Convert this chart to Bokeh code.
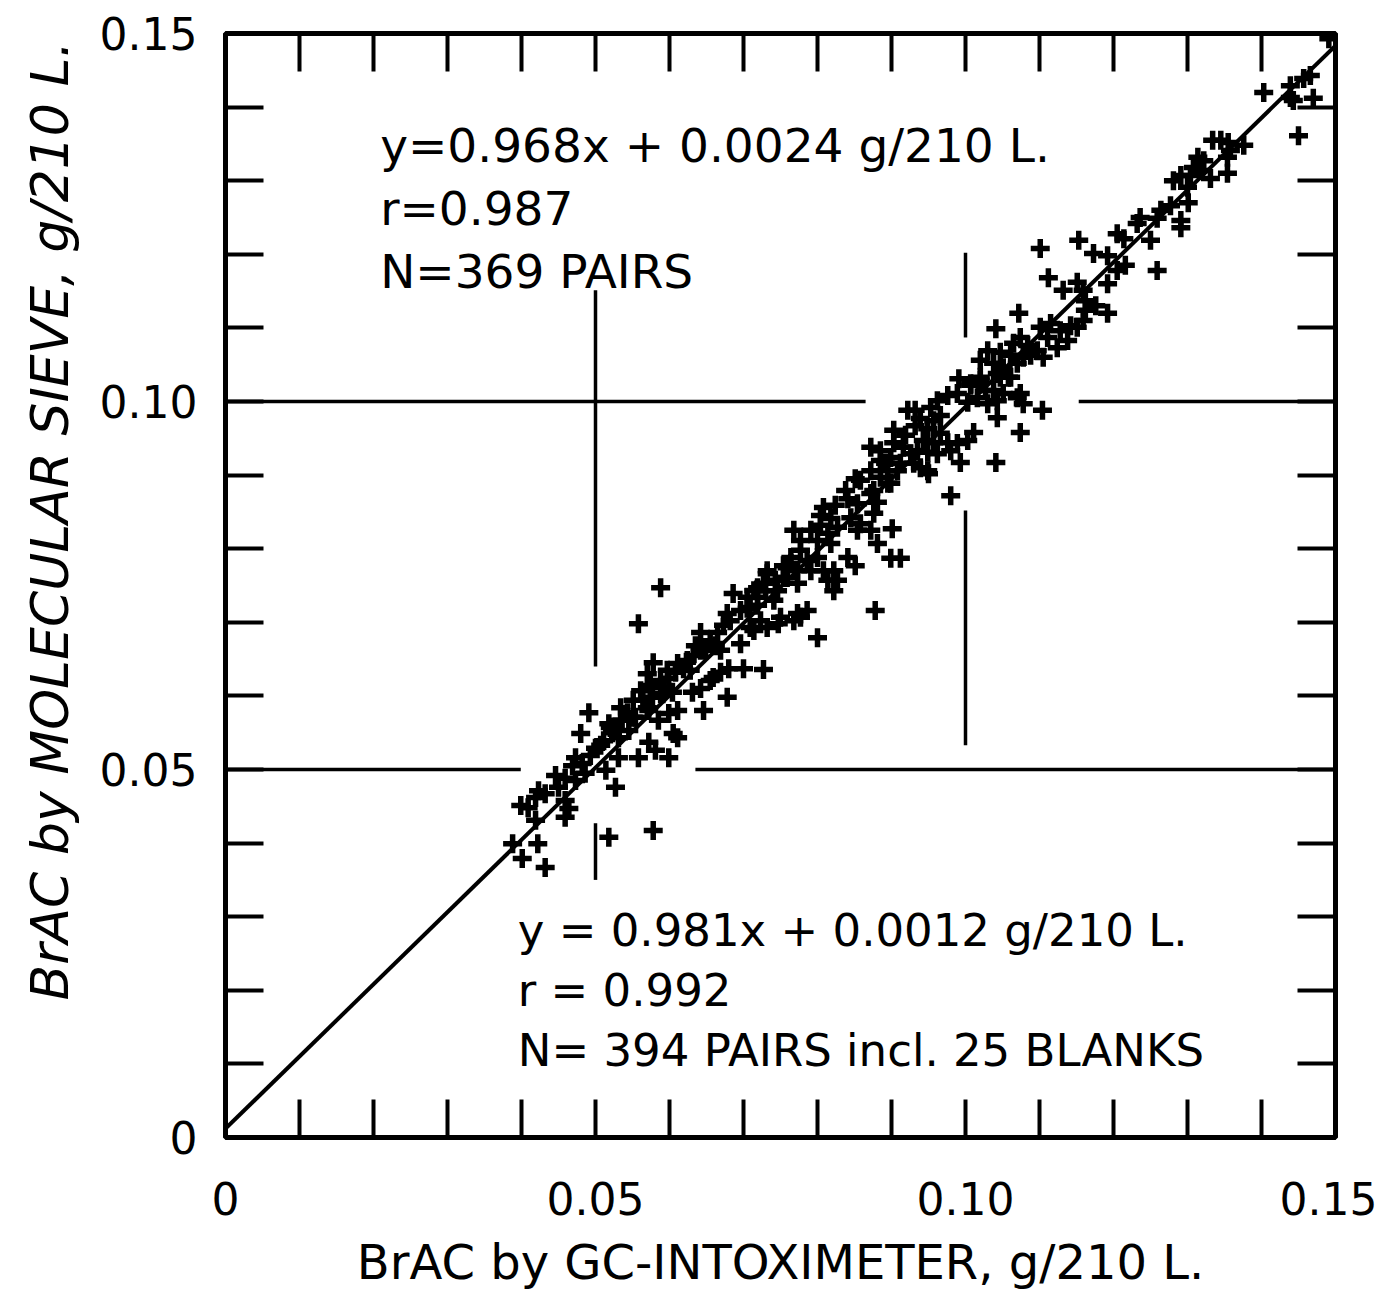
import math
from bokeh.plotting import figure
from bokeh.models import FixedTicker, CustomJSTickFormatter, LinearAxis, Label, Range1d, Title
from bokeh.embed import file_html
from bokeh.resources import INLINE

# ---- data: (BrAC by GC-Intoximeter, BrAC by molecular sieve), g/210 L ----
pairs_low = [
    (0.0491, 0.0577), (0.0480, 0.0549), (0.0500, 0.0529), (0.0511, 0.0539), (0.0523, 0.0550),
    (0.0518, 0.0562), (0.0536, 0.0567), (0.0554, 0.0571), (0.0564, 0.0594), (0.0577, 0.0598),
    (0.0591, 0.0603), (0.0604, 0.0605), (0.0572, 0.0580), (0.0545, 0.0553), (0.0531, 0.0543),
    (0.0599, 0.0576), (0.0611, 0.0580), (0.0585, 0.0567), (0.0611, 0.0543), (0.0572, 0.0537),
    (0.0581, 0.0526), (0.0558, 0.0516), (0.0599, 0.0516), (0.0531, 0.0516), (0.0514, 0.0499),
    (0.0527, 0.0476), (0.0473, 0.0516), (0.0469, 0.0505), (0.0482, 0.0508), (0.0486, 0.0495),
    (0.0459, 0.0488), (0.0473, 0.0485), (0.0450, 0.0476), (0.0423, 0.0471), (0.0432, 0.0467),
    (0.0419, 0.0462), (0.0399, 0.0451), (0.0409, 0.0448), (0.0459, 0.0458), (0.0464, 0.0447),
    (0.0459, 0.0435), (0.0419, 0.0431), (0.0388, 0.0399), (0.0422, 0.0399), (0.0401, 0.0379),
    (0.0432, 0.0367), (0.0518, 0.0408), (0.0578, 0.0417), (0.0446, 0.0492),
]
pairs_mid1 = [
    (0.0588, 0.0747), (0.0558, 0.0698), (0.0642, 0.0686), (0.0655, 0.0675), (0.0665, 0.0686),
    (0.0578, 0.0645), (0.0570, 0.0630), (0.0597, 0.0635), (0.0611, 0.0644), (0.0624, 0.0648),
    (0.0628, 0.0635), (0.0551, 0.0594), (0.0570, 0.0584), (0.0588, 0.0603), (0.0592, 0.0611),
    (0.0534, 0.0567), (0.0551, 0.0571), (0.0520, 0.0557), (0.0686, 0.0739), (0.0705, 0.0719),
    (0.0678, 0.0712), (0.0719, 0.0734), (0.0732, 0.0766), (0.0719, 0.0747), (0.0741, 0.0730),
    (0.0750, 0.0707), (0.0732, 0.0693), (0.0709, 0.0693), (0.0696, 0.0671), (0.0764, 0.0780),
    (0.0759, 0.0761), (0.0768, 0.0702), (0.0680, 0.0637), (0.0700, 0.0637), (0.0727, 0.0636),
    (0.0659, 0.0625), (0.0642, 0.0610), (0.0631, 0.0605), (0.0678, 0.0598), (0.0646, 0.0580),
    (0.0605, 0.0549), (0.0669, 0.0632), (0.0655, 0.0621), (0.0649, 0.0662), (0.0669, 0.0662),
    (0.0635, 0.0668),
]
pairs_mid2 = [
    (0.0851, 0.0895), (0.0892, 0.0916), (0.0908, 0.0906), (0.0939, 0.0910), (0.0950, 0.0902),
    (0.0895, 0.0889), (0.0841, 0.0868), (0.0854, 0.0861), (0.0872, 0.0875), (0.0881, 0.0863),
    (0.0876, 0.0848), (0.0808, 0.0856), (0.0818, 0.0841), (0.0845, 0.0842), (0.0858, 0.0834),
    (0.0872, 0.0825), (0.0854, 0.0825), (0.0901, 0.0827), (0.0768, 0.0825), (0.0804, 0.0832),
    (0.0814, 0.0821), (0.0827, 0.0829), (0.0800, 0.0811), (0.0818, 0.0807), (0.0881, 0.0807),
    (0.0899, 0.0787), (0.0912, 0.0787), (0.0841, 0.0788), (0.0851, 0.0777), (0.0764, 0.0788),
    (0.0777, 0.0798), (0.0786, 0.0784), (0.0800, 0.0788), (0.0759, 0.0774), (0.0773, 0.0770),
    (0.0791, 0.0770), (0.0808, 0.0770), (0.0822, 0.0770), (0.0814, 0.0757), (0.0827, 0.0757),
    (0.0822, 0.0743), (0.0773, 0.0753), (0.0754, 0.0761), (0.0732, 0.0770), (0.0727, 0.0753),
    (0.0746, 0.0743), (0.0714, 0.0743), (0.0705, 0.0734), (0.0878, 0.0716), (0.0773, 0.0712),
    (0.0786, 0.0716), (0.0777, 0.0707), (0.0747, 0.0698), (0.0800, 0.0679), (0.0709, 0.0720),
    (0.0723, 0.0702), (0.0714, 0.0689),
]
pairs_high1 = [
    (0.0991, 0.1031), (0.1007, 0.1022), (0.1020, 0.1029), (0.1043, 0.1038), (0.1058, 0.1033),
    (0.0989, 0.1011), (0.1003, 0.0999), (0.1016, 0.1005), (0.1030, 0.0997), (0.1043, 0.1001),
    (0.1051, 0.1011), (0.1070, 0.1005), (0.1078, 0.0997), (0.1104, 0.0988), (0.1043, 0.0978),
    (0.1074, 0.0958), (0.1041, 0.0917), (0.0993, 0.0917), (0.1011, 0.0958), (0.1003, 0.0947),
    (0.0962, 0.1001), (0.0976, 0.1008), (0.0953, 0.0992), (0.0922, 0.0988), (0.0932, 0.0988),
    (0.0957, 0.0974), (0.0949, 0.0963), (0.0966, 0.0957), (0.0976, 0.0944), (0.0957, 0.0944),
    (0.0943, 0.0947), (0.0935, 0.0933), (0.0949, 0.0931), (0.0962, 0.0929), (0.0980, 0.0933),
    (0.0989, 0.0943), (0.0903, 0.0961), (0.0903, 0.0944), (0.0916, 0.0938), (0.0926, 0.0929),
    (0.0885, 0.0933), (0.0872, 0.0938), (0.0899, 0.0924), (0.0912, 0.0916), (0.0930, 0.0916),
    (0.0949, 0.0906), (0.0895, 0.0906), (0.0885, 0.0897), (0.0899, 0.0889), (0.0876, 0.0879),
    (0.0980, 0.0872), (0.1038, 0.1015),
]
pairs_high2 = [
    (0.1101, 0.1208), (0.1153, 0.1219), (0.1205, 0.1228), (0.1214, 0.1221), (0.1173, 0.1201),
    (0.1192, 0.1198), (0.1205, 0.1178), (0.1259, 0.1178), (0.1112, 0.1168), (0.1132, 0.1151),
    (0.1151, 0.1162), (0.1159, 0.1151), (0.1162, 0.1137), (0.1192, 0.1160), (0.1192, 0.1120),
    (0.1162, 0.1124), (0.1159, 0.1110), (0.1151, 0.1101), (0.1072, 0.1120), (0.1041, 0.1099),
    (0.1101, 0.1101), (0.1115, 0.1106), (0.1128, 0.1096), (0.1138, 0.1083), (0.1124, 0.1073),
    (0.1111, 0.1087), (0.1074, 0.1087), (0.1065, 0.1079), (0.1084, 0.1076), (0.1097, 0.1069),
    (0.1105, 0.1060), (0.1078, 0.1060), (0.1061, 0.1063), (0.1047, 0.1067), (0.1030, 0.1069),
    (0.1020, 0.1056), (0.1038, 0.1052), (0.1051, 0.1046), (0.1070, 0.1052), (0.1047, 0.1033),
    (0.1061, 0.1033), (0.1020, 0.1033), (0.1007, 0.1024), (0.1074, 0.1011),
]
pairs_top = [
    (0.1403, 0.1420), (0.1439, 0.1429), (0.1457, 0.1439), (0.1466, 0.1443), (0.1439, 0.1413),
    (0.1443, 0.1409), (0.1470, 0.1412), (0.1450, 0.1361), (0.1334, 0.1355), (0.1345, 0.1355),
    (0.1355, 0.1352), (0.1376, 0.1348), (0.1358, 0.1341), (0.1314, 0.1332), (0.1322, 0.1327),
    (0.1308, 0.1318), (0.1318, 0.1314), (0.1354, 0.1332), (0.1354, 0.1310), (0.1304, 0.1307),
    (0.1291, 0.1307), (0.1331, 0.1303), (0.1281, 0.1300), (0.1300, 0.1291), (0.1301, 0.1270),
    (0.1291, 0.1246), (0.1291, 0.1236), (0.1264, 0.1260), (0.1259, 0.1249), (0.1236, 0.1250),
    (0.1232, 0.1242), (0.1491, 0.1493),
]
pairs_dense = [
    (0.0534, 0.0584), (0.0543, 0.0577), (0.0561, 0.0607), (0.0574, 0.0614), (0.0588, 0.0621),
    (0.0599, 0.0624), (0.0608, 0.0632), (0.0619, 0.0637), (0.0632, 0.0655), (0.0642, 0.0662),
    (0.0662, 0.0668), (0.0673, 0.0696), (0.0682, 0.0702), (0.0696, 0.0716), (0.0719, 0.0723),
    (0.0730, 0.0743), (0.0743, 0.0757), (0.0754, 0.0777), (0.0777, 0.0811), (0.0791, 0.0825),
    (0.0804, 0.0845), (0.0824, 0.0859), (0.0838, 0.0879), (0.0858, 0.0893), (0.0872, 0.0906),
    (0.0885, 0.0920), (0.0919, 0.0954), (0.0932, 0.0967), (0.0939, 0.0977), (0.0966, 0.0981),
    (0.1027, 0.1015), (0.1088, 0.1063), (0.1142, 0.1103), (0.1176, 0.1130), (0.1216, 0.1185),
    (0.1250, 0.1219), (0.1277, 0.1266), (0.0507, 0.0533), (0.0493, 0.0519),
]

# regression line drawn in the figure
fit_slope = 0.981
fit_intercept = 0.0012

# axis ticks
major_ticks = [0.0, 0.05, 0.10, 0.15]
minor_ticks = [0.01, 0.02, 0.03, 0.04, 0.06, 0.07, 0.08, 0.09, 0.11, 0.12, 0.13, 0.14]

# partial reference lines at 0.05 and 0.10 (broken around text and data)
hgrid_y = [0.10, 0.10, 0.05, 0.05]
hgrid_x0 = [0.0, 0.1153, 0.0, 0.0635]
hgrid_x1 = [0.0865, 0.15, 0.0399, 0.15]
vgrid_x = [0.05, 0.05, 0.10, 0.10]
vgrid_y0 = [0.1151, 0.0427, 0.1202, 0.0852]
vgrid_y1 = [0.0640, 0.0350, 0.1087, 0.0533]

x_title = "BrAC by GC-INTOXIMETER, g/210 L."
y_title = "BrAC by MOLECULAR SIEVE, g/210 L."
upper_text = ["y=0.968x + 0.0024 g/210 L.", "r=0.987", "N=369 PAIRS"]
lower_text = ["y = 0.981x + 0.0012 g/210 L.", "r = 0.992", "N= 394 PAIRS incl. 25 BLANKS"]

FONT = "DejaVu Sans"

all_pairs = pairs_low + pairs_mid1 + pairs_mid2 + pairs_high1 + pairs_high2 + pairs_top + pairs_dense
xs = [p[0] for p in all_pairs]
ys = [p[1] for p in all_pairs]

p = figure(frame_width=1110, frame_height=1104,
           x_range=Range1d(0, 0.15), y_range=Range1d(0, 0.15),
           output_backend="svg", toolbar_location=None,
           x_axis_location=None, y_axis_location=None,
           min_border_left=225, min_border_top=33, min_border_right=42, min_border_bottom=162,
           background_fill_color="white", border_fill_color="white")
p.xgrid.visible = False
p.ygrid.visible = False
p.outline_line_color = "black"
p.outline_line_width = 5

fmt = CustomJSTickFormatter(code="return tick == 0 ? '0' : tick.toFixed(2);")
blank = CustomJSTickFormatter(code="return '';")

def make_axis(labelled):
    ax = LinearAxis()
    ax.ticker = FixedTicker(ticks=major_ticks, minor_ticks=minor_ticks)
    ax.formatter = fmt if labelled else blank
    ax.axis_line_color = None
    ax.major_tick_in = 38
    ax.major_tick_out = 0
    ax.minor_tick_in = 38
    ax.minor_tick_out = 0
    ax.major_tick_line_width = 4
    ax.minor_tick_line_width = 4
    ax.major_tick_line_color = "black"
    ax.minor_tick_line_color = "black"
    ax.major_label_text_font = FONT
    ax.major_label_text_font_size = "44px" if labelled else "1px"
    ax.major_label_text_color = "black"
    ax.major_label_standoff = 0
    return ax

xb = make_axis(True)
xb.major_label_standoff = 44
xb.axis_label = x_title
xb.axis_label_text_font = FONT
xb.axis_label_text_font_size = "48px"
xb.axis_label_text_font_style = "normal"
xb.axis_label_text_color = "black"
xb.axis_label_standoff = 16
p.add_layout(xb, "below")

yl = make_axis(True)
yl.major_label_standoff = 28
p.add_layout(yl, "left")

p.add_layout(make_axis(False), "above")
p.add_layout(make_axis(False), "right")

# y axis title, placed off-centre as in the original
p.add_layout(Title(text=y_title, align="left", offset=137, standoff=34, vertical_align="bottom",
                   text_font=FONT, text_font_size="52px", text_font_style="italic",
                   text_color="black"), "left")

# reference line segments
p.segment(x0=hgrid_x0, y0=hgrid_y, x1=hgrid_x1, y1=hgrid_y, line_color="black", line_width=3.5)
p.segment(x0=vgrid_x, y0=vgrid_y0, x1=vgrid_x, y1=vgrid_y1, line_color="black", line_width=3.5)

# regression line
x_line = [major_ticks[0], major_ticks[-1]]
y_line = [fit_slope * v + fit_intercept for v in x_line]
p.line(x_line, y_line, line_color="black", line_width=4)

# data points
p.scatter(xs, ys, marker="cross", size=19, line_width=5.5, line_color="black")

# annotation texts
for i, t in enumerate(upper_text):
    p.add_layout(Label(x=0.0209, y=0.1348 - i * 0.00855, text=t, text_font=FONT,
                       text_font_size="47px", text_baseline="alphabetic", text_color="black"))
for i, t in enumerate(lower_text):
    p.add_layout(Label(x=0.0395, y=0.0281 - i * 0.00815, text=t, text_font=FONT,
                       text_font_size="45px", text_baseline="alphabetic", text_color="black"))

open("out.html", "w").write(file_html(p, INLINE))
